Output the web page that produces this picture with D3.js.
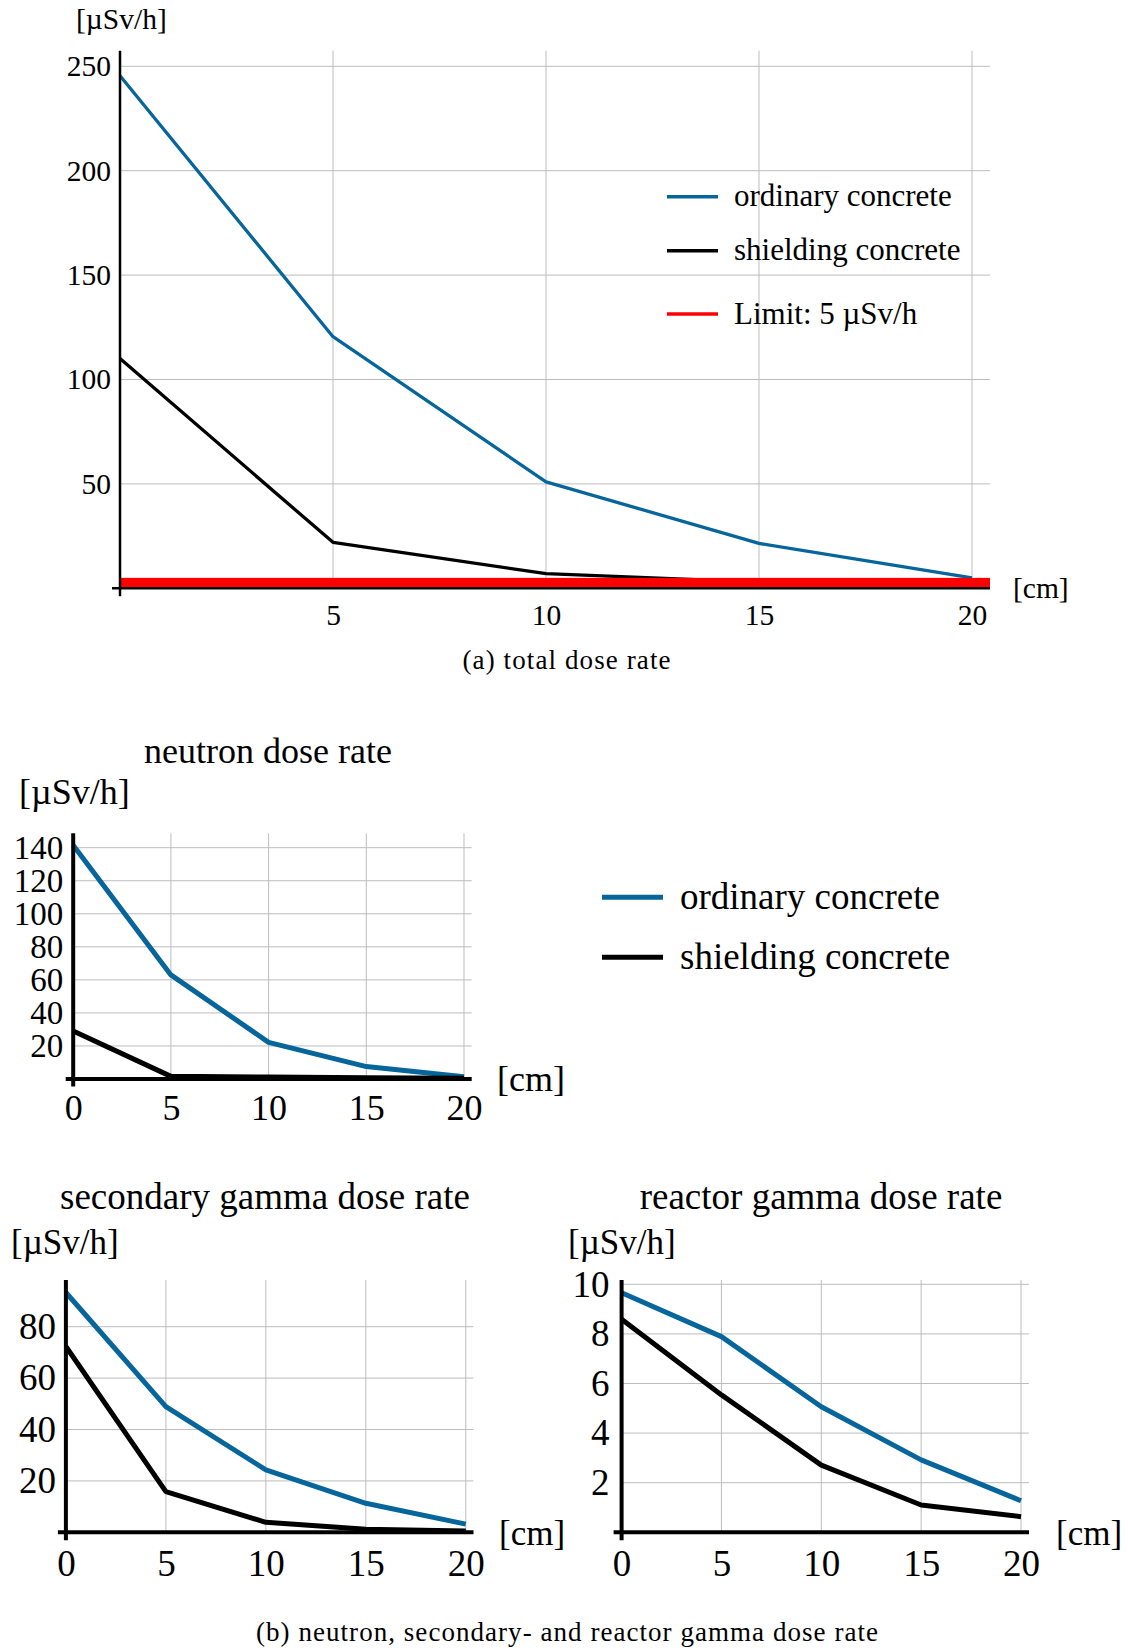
<!doctype html>
<html lang="en">
  <head>
    <meta charset="utf-8">
    <title>Dose rates</title>
    <style>
      body { margin: 0; background: #fff; }
      svg text { font-family: "Liberation Serif", "Times New Roman", serif; fill: #000; }
    </style>
  </head>
  <body>
    <div id="chart"></div>
    <script src="https://d3js.org/d3.v7.min.js"></script>
    <script>
    // values, dose rate in µSv/h over thickness in cm
    var distance = [0, 5, 10, 15, 20];

    var totalOrdinary = [245.5, 120.5, 51, 21.5, 5];
    var totalShielding = [110, 22, 7, 3, 2];
    var limitValue = 5;

    var neutronOrdinary = [141.5, 63, 22.2, 7.5, 1.4];
    var neutronShielding = [29, 1.6, 1.2, 0.8, 0.5];

    var secondaryOrdinary = [93.3, 48.9, 24.3, 11.3, 3.2];
    var secondaryShielding = [72.3, 15.8, 3.9, 1.2, 0.5];

    var reactorOrdinary = [9.66, 7.89, 5.06, 2.92, 1.27];
    var reactorShielding = [8.59, 5.54, 2.71, 1.1, 0.63];

    var totalXTicks = [5, 10, 15, 20];
    var totalYTicks = [50, 100, 150, 200, 250];
    var panelXTicks = [0, 5, 10, 15, 20];
    var neutronYTicks = [20, 40, 60, 80, 100, 120, 140];
    var secondaryYTicks = [20, 40, 60, 80];
    var reactorYTicks = [2, 4, 6, 8, 10];

    var legendNames = ["ordinary concrete", "shielding concrete", "Limit: 5 \u00b5Sv/h"];
    var blue = "#06659a";

    var svg = d3.select("#chart")
        .append("svg")
        .attr("width", 1128)
        .attr("height", 1652);

    function panel(o) {
      var x = d3.scaleLinear().domain([0, 20]).range(o.xr);
      var y = d3.scaleLinear().domain(o.yd).range(o.yr);
      var g = svg.append("g");
      var gridTop = o.gridTop, gridRight = o.gridRight;

      // grid
      g.selectAll(".vg").data(o.xticks.filter(function(d){ return d > 0; }))
        .join("line")
        .attr("x1", function(d){ return x(d); }).attr("x2", function(d){ return x(d); })
        .attr("y1", y(0)).attr("y2", gridTop)
        .attr("stroke", "#bdbdbd").attr("stroke-width", 1);
      g.selectAll(".hg").data(o.yticks)
        .join("line")
        .attr("x1", x(0)).attr("x2", gridRight)
        .attr("y1", function(d){ return y(d); }).attr("y2", function(d){ return y(d); })
        .attr("stroke", "#bdbdbd").attr("stroke-width", 1);

      // tick labels
      var ya = g.append("g").attr("transform", "translate(" + x(0) + ",0)")
        .call(d3.axisLeft(y).tickValues(o.yticks).tickSize(0).tickPadding(o.ypad));
      var xa = g.append("g").attr("transform", "translate(0," + y(0) + ")")
        .call(d3.axisBottom(x).tickValues(o.xticks).tickSize(0).tickPadding(o.xpad));
      [ya, xa].forEach(function(a){
        a.attr("font-family", null).attr("font-size", null);
        a.select(".domain").remove();
      });
      ya.selectAll(".tick text").attr("font-size", o.yfs || o.fs);
      xa.selectAll(".tick text").attr("font-size", o.fs);

      // limit band
      if (o.limit) {
        g.append("rect")
          .attr("x", x(0)).attr("width", gridRight - x(0))
          .attr("y", y(o.limit)).attr("height", y(0) - y(o.limit))
          .attr("fill", "#ff0000");
      }

      var line = d3.line()
        .x(function(d, i){ return x(distance[i]); })
        .y(function(d){ return y(d); });

      o.series.forEach(function(s){
        g.append("path").datum(s.values)
          .attr("d", line)
          .attr("fill", "none")
          .attr("stroke", s.color)
          .attr("stroke-width", o.lw)
          .attr("stroke-linejoin", "round");
      });
      if (o.limit) g.select("rect").raise();

      // axes
      g.append("line").attr("x1", x(0)).attr("x2", x(0))
        .attr("y1", gridTop).attr("y2", y(0) + o.ext)
        .attr("stroke", "#000").attr("stroke-width", o.aw);
      g.append("line").attr("x1", x(0) - o.ext).attr("x2", gridRight)
        .attr("y1", y(0)).attr("y2", y(0))
        .attr("stroke", "#000").attr("stroke-width", o.aw);

      // units
      g.append("text").attr("x", o.unitX).attr("y", o.unitY)
        .attr("font-size", o.ufs || o.fs).text("[\u00b5Sv/h]");
      g.append("text").attr("x", o.cmX).attr("y", o.cmY)
        .attr("font-size", o.ufs || o.fs).text("[cm]");
      if (o.title) {
        g.append("text").attr("x", o.titleX).attr("y", o.titleY)
          .attr("text-anchor", "middle").attr("font-size", o.fs).text(o.title);
      }
    }

    // (a) total dose rate
    panel({
      xr: [120, 972], yd: [0, 250], yr: [588.3, 66.3],
      gridTop: 50.7, gridRight: 990, ext: 8, aw: 2.5, lw: 3.3,
      xticks: totalXTicks, yticks: totalYTicks, fs: 29.5, ypad: 9, xpad: 16,
      limit: limitValue,
      series: [{values: totalOrdinary, color: blue}, {values: totalShielding, color: "#000"}],
      unitX: 76, unitY: 29, cmX: 1013, cmY: 598
    });

    // legend (a)
    [blue, "#000", "#ff0000"].forEach(function(c, i){
      var ly = [196.7, 250.7, 314][i];
      svg.append("line").attr("x1", 667).attr("x2", 718).attr("y1", ly).attr("y2", ly)
        .attr("stroke", c).attr("stroke-width", 3.5);
      svg.append("text").attr("x", 734).attr("y", ly + 9.5).attr("font-size", 31).text(legendNames[i]);
    });

    svg.append("text").attr("x", 462.5).attr("y", 669)
      .attr("font-size", 27).attr("textLength", 208).attr("lengthAdjust", "spacing")
      .text("(a)  total dose rate");

    // neutron
    panel({
      xr: [73.2, 464], yd: [0, 140], yr: [1079, 847.7],
      gridTop: 833.3, gridRight: 471.7, ext: 7.5, aw: 4, lw: 5,
      xticks: panelXTicks, yticks: neutronYTicks, fs: 36, yfs: 33, ypad: 10, xpad: 15,
      series: [{values: neutronOrdinary, color: blue}, {values: neutronShielding, color: "#000"}],
      unitX: 19, unitY: 804, cmX: 497, cmY: 1091,
      title: "neutron dose rate", titleX: 268, titleY: 763
    });

    // legend (b)
    [blue, "#000"].forEach(function(c, i){
      var ly = [897.3, 957.3][i];
      svg.append("line").attr("x1", 602).attr("x2", 663).attr("y1", ly).attr("y2", ly)
        .attr("stroke", c).attr("stroke-width", 5);
      svg.append("text").attr("x", 680).attr("y", ly + 12).attr("font-size", 37).text(legendNames[i]);
    });

    // secondary gamma
    panel({
      xr: [65.9, 465.8], yd: [0, 80], yr: [1532.3, 1326.7],
      gridTop: 1280, gridRight: 473.5, ext: 8, aw: 4, lw: 5,
      xticks: panelXTicks, yticks: secondaryYTicks, fs: 37, ufs: 35, ypad: 10, xpad: 17,
      series: [{values: secondaryOrdinary, color: blue}, {values: secondaryShielding, color: "#000"}],
      unitX: 11, unitY: 1254, cmX: 499, cmY: 1545,
      title: "secondary gamma dose rate", titleX: 265, titleY: 1209
    });

    // reactor gamma
    panel({
      xr: [621.6, 1021], yd: [0, 10], yr: [1532.3, 1284.3],
      gridTop: 1280, gridRight: 1029, ext: 8, aw: 4, lw: 5,
      xticks: panelXTicks, yticks: reactorYTicks, fs: 37, ufs: 35, ypad: 12, xpad: 17,
      series: [{values: reactorOrdinary, color: blue}, {values: reactorShielding, color: "#000"}],
      unitX: 568, unitY: 1254, cmX: 1056, cmY: 1545,
      title: "reactor gamma dose rate", titleX: 821, titleY: 1209
    });

    svg.append("text").attr("x", 256).attr("y", 1641)
      .attr("font-size", 27).attr("textLength", 622).attr("lengthAdjust", "spacing")
      .text("(b)  neutron, secondary- and reactor gamma dose rate");
    </script>
  </body>
</html>
